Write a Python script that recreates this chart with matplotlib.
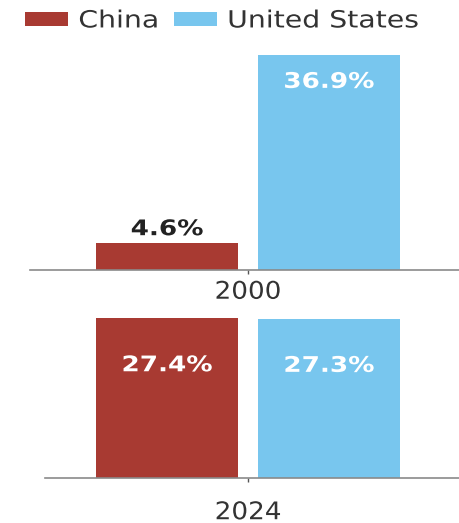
import matplotlib.pyplot as plt
from matplotlib.patheffects import AbstractPathEffect
from matplotlib.transforms import Affine2D

years = ["2000", "2024"]
countries = ["China", "United States"]
china = [4.6, 27.4]
united_states = [36.9, 27.3]

RED = "#a83a32"
BLUE = "#78c6ee"
TEXT = "#333333"
DPI = 100
W, H = 459, 523


class Widen(AbstractPathEffect):
    """Stretch text glyphs horizontally, around the centre or the left edge."""

    def __init__(self, sx, anchor="center"):
        super().__init__()
        self.sx = sx
        self.anchor = anchor

    def draw_path(self, renderer, gc, tpath, affine, rgbFace=None):
        ext = tpath.get_extents()
        x0 = ext.x0 if self.anchor == "left" else (ext.x0 + ext.x1) / 2
        stretch = Affine2D().translate(-x0, 0).scale(self.sx, 1).translate(x0, 0)
        renderer.draw_path(gc, tpath, stretch + affine, rgbFace)


fig = plt.figure(figsize=(W / DPI, H / DPI), dpi=DPI)

px_per_unit = 355.0   # horizontal scale of the bar axes
center_px = 248.0     # pixel column of the year tick
y_scale = 5.83        # pixels per percentage point


def make_axes(left_px, base_px, top_px):
    right_px = 466
    ax = fig.add_axes([left_px / W, (H - base_px) / H,
                       (right_px - left_px) / W, (base_px - top_px) / H])
    ax.set_xlim((left_px - center_px) / px_per_unit, (right_px - center_px) / px_per_unit)
    ax.set_ylim(0, (base_px - top_px) / y_scale)
    for s in ["top", "right", "left"]:
        ax.spines[s].set_visible(False)
    ax.spines["bottom"].set_color("#8a8a8a")
    ax.spines["bottom"].set_linewidth(1.2)
    ax.set_yticks([])
    return ax


panels = [
    # left edge, baseline, top, label pad, inside-label offset
    (30, 270, 50, 4, -27),
    (45, 478, 316, 13, -47),
]

offset = 0.228
width = 0.4
handles = None
for i, (left, base, top, pad, inside) in enumerate(panels):
    ax = make_axes(left, base, top)
    b1 = ax.bar(-offset, china[i], width, color=RED, label=countries[0])
    b2 = ax.bar(offset, united_states[i], width, color=BLUE, label=countries[1])
    if handles is None:
        handles = [b1, b2]
    ax.set_xticks([0])
    ax.set_xticklabels([years[i]], path_effects=[Widen(1.08)])
    ax.tick_params(axis="x", length=3, width=1, color="#555555", pad=pad,
                   labelsize=17.5, labelcolor=TEXT)

    for x, v in [(-offset, china[i]), (offset, united_states[i])]:
        if v < 10:
            dy, col = 14, "#222222"
        else:
            dy, col = inside, "white"
        ax.annotate(f"{v}%", (x, v), xytext=(0, dy), textcoords="offset pixels",
                    ha="center", va="center", fontsize=15.5, fontweight="bold",
                    color=col, path_effects=[Widen(1.22)])

leg = fig.legend(handles=handles, labels=countries, loc="upper left",
                 bbox_to_anchor=(16 / W, 1 + 1 / H), ncol=2, frameon=False,
                 fontsize=17, handlelength=1.8, handleheight=0.56,
                 handletextpad=0.45, columnspacing=1.2, borderaxespad=0)
for t in leg.get_texts():
    t.set_color(TEXT)
    t.set_path_effects([Widen(1.2, anchor="left")])

fig.savefig("out.png", dpi=DPI)
